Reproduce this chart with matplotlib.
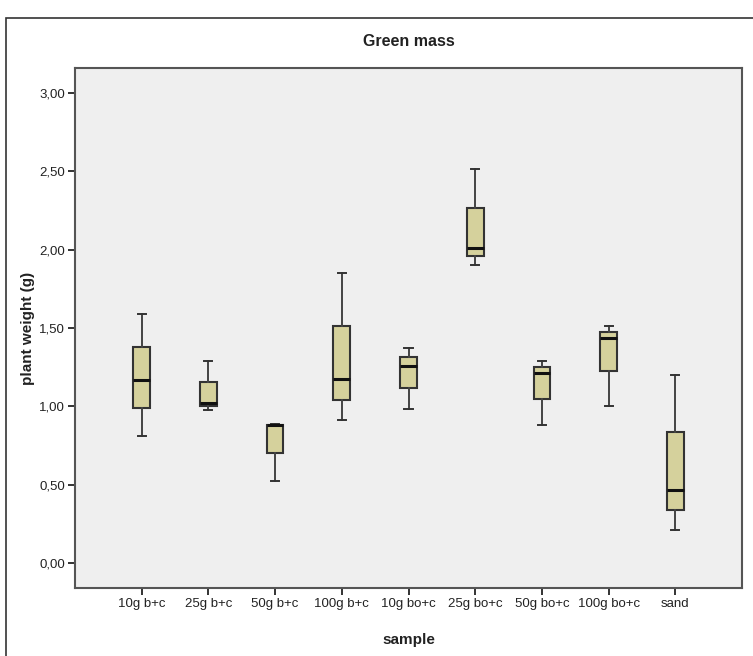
import matplotlib
matplotlib.use("Agg")
import matplotlib.pyplot as plt
from matplotlib.patches import Rectangle
from matplotlib.ticker import FuncFormatter

# amostras e estatisticas das caixas (min, q1, mediana, q3, max)
amostras = ["10g b+c", "25g b+c", "50g b+c", "100g b+c", "10g bo+c",
            "25g bo+c", "50g bo+c", "100g bo+c", "sand"]
minimos = [0.81, 0.975, 0.52, 0.91, 0.98, 1.90, 0.88, 1.005, 0.21]
q1 = [0.99, 1.00, 0.70, 1.04, 1.12, 1.957, 1.047, 1.223, 0.336]
medianas = [1.168, 1.02, 0.88, 1.172, 1.255, 2.012, 1.214, 1.436, 0.466]
q3 = [1.38, 1.157, 0.883, 1.51, 1.315, 2.264, 1.253, 1.474, 0.834]
maximos = [1.59, 1.29, 0.885, 1.853, 1.374, 2.512, 1.291, 1.514, 1.198]
yticks = [0.0, 0.5, 1.0, 1.5, 2.0, 2.5, 3.0]

plt.rcParams['font.family'] = ['Liberation Sans', 'DejaVu Sans']

fig = plt.figure(figsize=(7.53, 6.56), dpi=100)
ax = fig.add_axes([75 / 753, 1 - 588 / 656, 667 / 753, 520 / 656])
ax.set_facecolor("#efefef")

stats = []
for nome, lo, a, m, b, hi in zip(amostras, minimos, q1, medianas, q3, maximos):
    stats.append({"label": nome, "whislo": lo, "q1": a, "med": m,
                  "q3": b, "whishi": hi, "fliers": []})

ax.bxp(stats, positions=range(1, len(amostras) + 1), widths=0.25,
       patch_artist=True, showfliers=False,
       boxprops=dict(facecolor="#d5d19c", edgecolor="#333333", linewidth=1.5),
       medianprops=dict(color="#111111", linewidth=2.2),
       whiskerprops=dict(color="#444444", linewidth=1.4),
       capprops=dict(color="#333333", linewidth=1.4),
       capwidths=0.12)

ax.set_xlim(0, len(amostras) + 1)
ax.set_ylim(-0.16, 3.16)
ax.set_yticks(yticks)
ax.yaxis.set_major_formatter(FuncFormatter(lambda v, p: f"{v:.2f}".replace(".", ",")))
ax.set_xticks(range(1, len(amostras) + 1))
ax.set_xticklabels(amostras)
ax.tick_params(axis="both", direction="out", length=5, width=1.4,
               color="#333333", labelsize=9.5, labelcolor="#222222", pad=2)

for lado in ax.spines.values():
    lado.set_color("#555555")
    lado.set_linewidth(1.5)

ax.set_title("Green mass", fontsize=11.5, fontweight="bold", color="#222222", pad=16)
ax.set_xlabel("sample", fontsize=11, fontweight="bold", color="#222222", labelpad=17)
ax.set_ylabel("plant weight (g)", fontsize=11, fontweight="bold", color="#222222", labelpad=3)

# moldura exterior do grafico
fig.patches.append(Rectangle((6 / 753, -0.05), 1.2, 1 - 18 / 656 + 0.05,
                             transform=fig.transFigure, fill=False,
                             edgecolor="#333333", linewidth=1.2))

fig.savefig("out.png", dpi=100)
